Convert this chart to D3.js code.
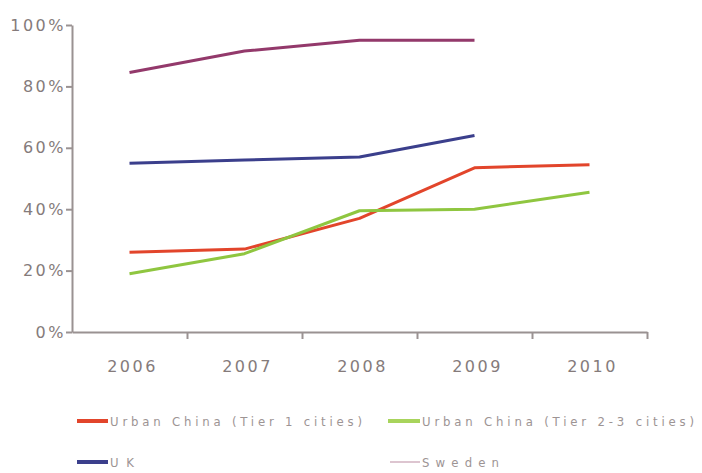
<!DOCTYPE html>
<html>
<head>
<meta charset="utf-8">
<script src="https://cdn.jsdelivr.net/npm/d3@7"></script>
<style>
  body { margin: 0; background: #fff; }
  svg { display: block; }
  .axis path, .axis line { stroke: #9a9292; stroke-width: 2; }
  .axis text { fill: #857b7b; font-family: "DejaVu Sans", sans-serif; letter-spacing: 2.5px; }
  .legend text { fill: #9d9494; font-family: "DejaVu Sans Condensed", sans-serif; font-size: 13px; }
</style>
</head>
<body>
<div id="chart"></div>
<script>
const years = ["2006", "2007", "2008", "2009", "2010"];
const tier1 = [0.26, 0.27, 0.37, 0.535, 0.545];
const tier23 = [0.19, 0.255, 0.395, 0.40, 0.455];
const uk = [0.55, 0.56, 0.57, 0.64];
const sweden = [0.845, 0.915, 0.95, 0.95];
const yTicks = [0, 0.2, 0.4, 0.6, 0.8, 1.0];

const series = [
    { name: "Urban China (Tier 1 cities)", values: tier1, color: "#e2452b" },
    { name: "Urban China (Tier 2-3 cities)", values: tier23, color: "#8fc640" },
    { name: "UK", values: uk, color: "#3b3f8c" },
    { name: "Sweden", values: sweden, color: "#93396b" }
];

const W = 702, H = 473;
const svg = d3.select("#chart").append("svg")
    .attr("width", W)
    .attr("height", H);

const x = d3.scaleBand()
    .domain(years)
    .range([72, 647]);

const y = d3.scaleLinear()
    .domain([0, 1])
    .range([332, 25]);

// y axis
svg.append("g")
    .attr("class", "axis axis-y")
    .attr("transform", "translate(72,0)")
    .call(d3.axisLeft(y).tickValues(yTicks).tickFormat(d3.format(".0%")).tickSize(6).tickSizeOuter(0))
    .selectAll("text")
    .style("font-size", "16px")
    .attr("x", -6);

// x axis: labels centred on each year, tick marks between years
const xEdges = d3.scaleLinear().domain([0, years.length]).range(x.range());
svg.append("g")
    .attr("class", "axis axis-x")
    .attr("transform", "translate(0,332)")
    .call(d3.axisBottom(xEdges).tickValues(d3.range(1, years.length + 1)).tickSize(7).tickSizeOuter(0).tickFormat(""));

svg.append("g")
    .attr("class", "axis axis-x-labels")
    .attr("transform", "translate(0,332)")
    .call(d3.axisBottom(x).tickSize(0).tickPadding(29))
    .call(g => g.select(".domain").remove())
    .selectAll("text")
    .style("font-size", "16px")
    .attr("dx", "3px");

const line = d3.line()
    .x((d, i) => x(years[i]) + x.bandwidth() / 2)
    .y(d => y(d));

svg.selectAll(".series")
    .data(series)
    .enter()
    .append("path")
    .attr("class", "series")
    .attr("fill", "none")
    .attr("stroke", d => d.color)
    .attr("stroke-width", 3)
    .attr("stroke-linejoin", "round")
    .attr("d", d => line(d.values));

// legend, two columns
const legendPos = [
    { x: 77, y: 421, sw: 31, lw: 4, textW: 252 },
    { x: 388, y: 421, sw: 32, lw: 4, textW: 272 },
    { x: 77, y: 462, sw: 31, lw: 4, textW: 24 },
    { x: 390, y: 462, sw: 30, lw: 1.5, textW: 77 }
];
const legendColors = ["#e2452b", "#a8d45c", "#3b3f8c", "#d2b2c0"];

const legend = svg.append("g").attr("class", "legend");
series.forEach(function(s, i) {
    const p = legendPos[i];
    const g = legend.append("g").attr("transform", `translate(${p.x},${p.y})`);
    g.append("line")
        .attr("x1", 0).attr("x2", p.sw)
        .attr("y1", 0).attr("y2", 0)
        .attr("stroke", legendColors[i])
        .attr("stroke-width", p.lw);
    g.append("text")
        .attr("x", p.sw + 2)
        .attr("y", 5)
        .attr("textLength", p.textW)
        .attr("lengthAdjust", "spacing")
        .text(s.name);
});
</script>
</body>
</html>
